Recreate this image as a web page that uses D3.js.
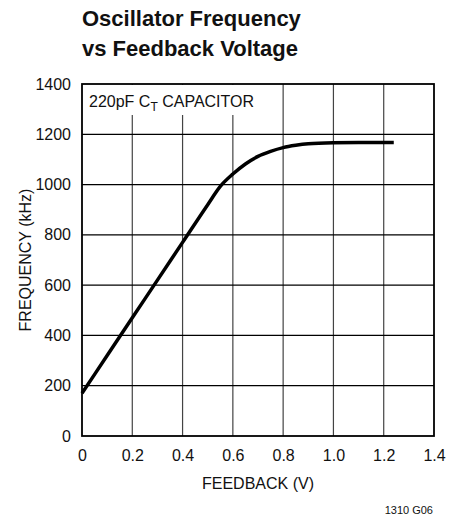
<!DOCTYPE html>
<html>
<head>
<meta charset="utf-8">
<script src="https://cdn.jsdelivr.net/npm/d3@7"></script>
<style>
  body { margin: 0; background: #fff; }
  svg text { font-family: "Liberation Sans", Arial, sans-serif; fill: #111; }
</style>
</head>
<body>
<div id="app"></div>
<script>
// curve
const feedbackV = [0, 0.1, 0.2, 0.3, 0.4, 0.5, 0.55, 0.6, 0.65, 0.7, 0.75, 0.8, 0.85, 0.9, 1.0, 1.1, 1.24];
const freqKHz = [170, 320, 470, 620, 770, 920, 993, 1042, 1082, 1112, 1132, 1147, 1156, 1162, 1166, 1167, 1167];

const xTicks = [0, 0.2, 0.4, 0.6, 0.8, 1.0, 1.2, 1.4];
const yTicks = [0, 200, 400, 600, 800, 1000, 1200, 1400];

const svg = d3.select('#app').append('svg')
    .attr('width', 465)
    .attr('height', 518);

const margin = { top: 84, right: 31, bottom: 82, left: 82 };
const width = +svg.attr('width') - margin.left - margin.right;
const height = +svg.attr('height') - margin.top - margin.bottom;

const g = svg.append('g')
    .attr('transform', `translate(${margin.left},${margin.top})`);

const x = d3.scaleLinear().domain([0, 1.4]).range([0, width]);
const y = d3.scaleLinear().domain([0, 1400]).range([height, 0]);

// title
const title = svg.append('text')
    .attr('x', 82)
    .attr('font-size', 22)
    .attr('font-weight', 'bold');
title.append('tspan').attr('x', 82).attr('y', 26).text('Oscillator Frequency');
title.append('tspan').attr('x', 82).attr('y', 56).text('vs Feedback Voltage');

// grid
g.append('g')
    .attr('class', 'grid')
    .selectAll('line')
    .data(xTicks.slice(1, -1))
    .enter().append('line')
      .attr('x1', d => x(d))
      .attr('x2', d => x(d))
      .attr('y1', 0)
      .attr('y2', height)
      .attr('stroke', '#444')
      .attr('stroke-width', 1.2);

g.append('g')
    .attr('class', 'grid')
    .selectAll('line')
    .data(yTicks.slice(1, -1))
    .enter().append('line')
      .attr('x1', 0)
      .attr('x2', width)
      .attr('y1', d => y(d))
      .attr('y2', d => y(d))
      .attr('stroke', '#000')
      .attr('stroke-width', 1.2);

// label box hides the grid behind it
g.append('rect')
    .attr('x', 1)
    .attr('y', 1)
    .attr('width', 172)
    .attr('height', 30)
    .attr('fill', '#fff');

const note = g.append('text')
    .attr('x', 7)
    .attr('y', 23)
    .attr('font-size', 16);
note.append('tspan').text('220pF C');
note.append('tspan').attr('font-size', 12).attr('dy', 4).text('T');
note.append('tspan').attr('dy', -4).text(' CAPACITOR');

// frame
g.append('rect')
    .attr('width', width)
    .attr('height', height)
    .attr('fill', 'none')
    .attr('stroke', '#000')
    .attr('stroke-width', 1.8);

// curve
const line = d3.line()
    .x((d, i) => x(feedbackV[i]))
    .y(d => y(d))
    .curve(d3.curveMonotoneX);

g.append('path')
    .datum(freqKHz)
    .attr('fill', 'none')
    .attr('stroke', '#000')
    .attr('stroke-width', 3.5)
    .attr('stroke-linecap', 'butt')
    .attr('d', line);

// axes
const xAxis = g.append('g')
    .attr('transform', `translate(0,${height})`)
    .call(d3.axisBottom(x)
      .tickValues(xTicks)
      .tickFormat(d => d === 0 ? '0' : d3.format('.1f')(d))
      .tickSize(0)
      .tickPadding(10));
xAxis.select('.domain').remove();
xAxis.selectAll('text').attr('font-size', 16).attr('dy', '0.71em').attr('y', 14);

const yAxis = g.append('g')
    .call(d3.axisLeft(y)
      .tickValues(yTicks)
      .tickFormat(d3.format('d'))
      .tickSize(0)
      .tickPadding(11));
yAxis.select('.domain').remove();
yAxis.selectAll('text').attr('font-size', 16);

svg.append('text')
    .attr('x', margin.left + x(0.7))
    .attr('y', 489)
    .attr('text-anchor', 'middle')
    .attr('font-size', 16)
    .text('FEEDBACK (V)');

svg.append('text')
    .attr('transform', `translate(31,${margin.top + y(700)}) rotate(-90)`)
    .attr('text-anchor', 'middle')
    .attr('font-size', 16)
    .text('FREQUENCY (kHz)');

svg.append('text')
    .attr('x', 433)
    .attr('y', 514)
    .attr('text-anchor', 'end')
    .attr('font-size', 11)
    .text('1310 G06');
</script>
</body>
</html>
